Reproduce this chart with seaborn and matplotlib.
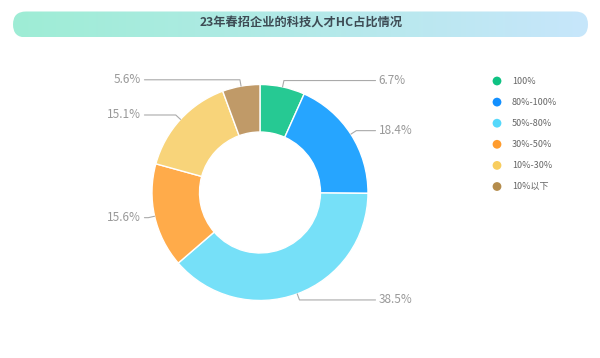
import numpy as np
import seaborn as sns
import matplotlib.pyplot as plt
from matplotlib.patches import FancyBboxPatch
from matplotlib.colors import LinearSegmentedColormap

# 数据
categories = ['100%', '80%-100%', '50%-80%', '30%-50%', '10%-30%', '10%以下']
values = [6.7, 18.4, 38.5, 15.6, 15.1, 5.6]
pie_colors = ['#26c993', '#26a5ff', '#76e0f8', '#ffab4a', '#f8d47a', '#c09a68']
legend_colors = ['#0fc283', '#1390ff', '#55d8fb', '#ff9c2e', '#f8cd5e', '#b48c4c']
title = '23年春招企业的科技人才HC占比情况'

sns.set_theme(style='white')
plt.rcParams['font.family'] = ['Noto Sans CJK SC', 'DejaVu Sans']

fig = plt.figure(figsize=(6, 3.58), dpi=100)

# 标题条（渐变圆角矩形）
bar_ax = fig.add_axes([0, 0, 1, 1])
bar_ax.set_xlim(0, 600)
bar_ax.set_ylim(358, 0)
bar_ax.axis('off')
cmap = LinearSegmentedColormap.from_list('bar', ['#9eedd5', '#c7e6fb'])
grad = np.linspace(0, 1, 256).reshape(1, -1)
im = bar_ax.imshow(grad, cmap=cmap, extent=[13, 588, 37.5, 11.5], aspect='auto')
box = FancyBboxPatch((13, 11.5), 575, 26, boxstyle='round,pad=0,rounding_size=13',
                     transform=bar_ax.transData, facecolor='none', edgecolor='none')
bar_ax.add_patch(box)
im.set_clip_path(box)
bar_ax.text(301, 23.5, title, ha='center', va='center', fontsize=8.8,
            fontweight='bold', color='#3e4c55')

# 环形图
ax = fig.add_axes([0.1633, 0.0098, 0.54, 0.905])
wedges, _ = ax.pie(values, colors=pie_colors, startangle=90, counterclock=False,
                   radius=1, wedgeprops=dict(width=0.44, edgecolor='white', linewidth=1))
ax.set_xlim(-1.5, 1.5)
ax.set_ylim(-1.5, 1.5)
ax.set_aspect('equal')
ax.axis('off')

for w, v in zip(wedges, values):
    ang = np.deg2rad((w.theta1 + w.theta2) / 2)
    x0, y0 = np.cos(ang), np.sin(ang)
    x1, y1 = 1.06 * x0, 1.06 * y0
    side = 1 if x0 >= 0 else -1
    x2 = 1.07 * side
    ax.plot([x0, x1, x2], [y0, y1, y1], color='#aaaaaa', lw=0.8, clip_on=False)
    ax.text(x2 + 0.03 * side, y1, f'{v}%', ha='left' if side > 0 else 'right',
            va='center', fontsize=8.5, color='#999999')

# 图例
for i, (c, lab) in enumerate(zip(legend_colors, categories)):
    y = 81 + i * 21.1
    bar_ax.scatter(497, y, s=40, color=c, edgecolors='none')
    bar_ax.text(512, y, lab, ha='left', va='center', fontsize=6.5, color='#666666')

fig.savefig('out.png', dpi=100)
